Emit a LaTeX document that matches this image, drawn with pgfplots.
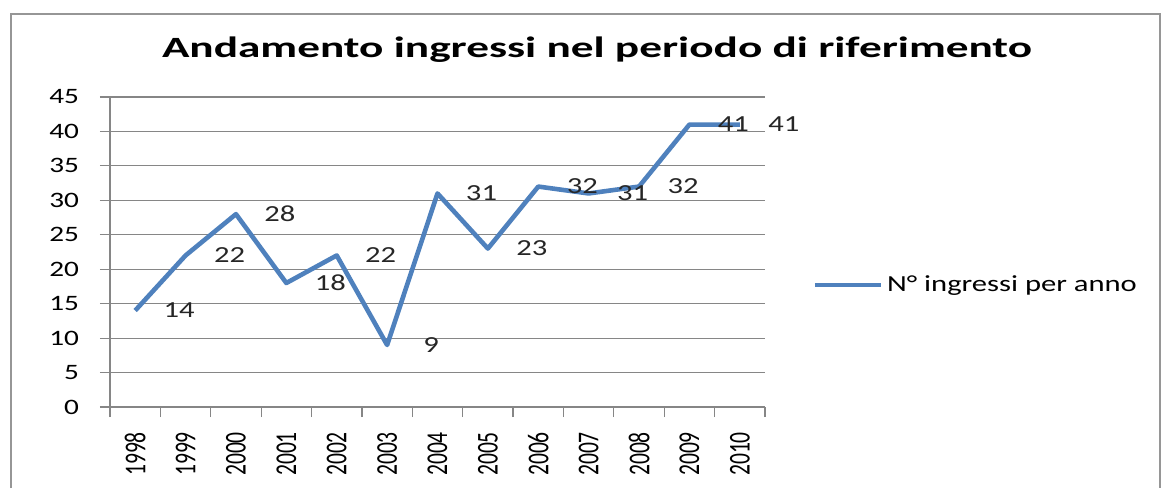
\documentclass[border=0pt]{standalone}
\usepackage{fontspec}
\setmainfont{Carlito}[FakeStretch=1.33]
\newfontfamily\titlefont{Carlito}[FakeStretch=1.54]
\newfontfamily\plainfont{Carlito}
\usepackage{pgfplots}
\pgfplotsset{compat=1.18}
\definecolor{lineblue}{RGB}{79,129,189}
\definecolor{gridgray}{RGB}{134,134,134}
\definecolor{framegray}{RGB}{150,150,150}
\begin{document}
\begin{tikzpicture}
\path[use as bounding box] (0,0) rectangle (584pt,244pt);
\draw[framegray, line width=1.2pt] (5.5pt,0pt) -- (5.5pt,237pt) -- (580pt,237pt) -- (580pt,0pt);
\node[font=\titlefont\fontsize{14.7}{17}\selectfont\bfseries] at (298.5pt,219pt) {Andamento ingressi nel periodo di riferimento};
\begin{axis}[at={(55pt,40.5pt)}, anchor=south west, scale only axis,
  width=327.5pt, height=155pt,
  xmin=-0.5, xmax=12.5, ymin=0, ymax=45,
  ytick={0,5,...,45},
  xtick={0,...,12},
  xticklabels={1998,1999,2000,2001,2002,2003,2004,2005,2006,2007,2008,2009,2010},
  minor xtick={-0.5,0.5,...,12.5},
  major x tick style={draw=none},
  tick align=outside, major tick length=5pt, minor tick length=5pt,
  tick style={gridgray, line width=0.6pt},
  axis x line*=bottom, axis y line*=left,
  axis line style={gridgray, line width=0.6pt, -},
  ymajorgrids, grid style={gridgray, line width=0.6pt},
  tick label style={font=\fontsize{11}{13}\selectfont, text=black},
  /pgf/number format/assume math mode=true,
  y tick label style={xshift=-7pt},
  x tick label style={yshift=-4pt, rotate=90, yscale=1.4, anchor=east,
    font=\plainfont\fontsize{10.8}{13}\selectfont},
  legend style={at={(1.072,0.394)}, anchor=west, draw=none, fill=none,
    inner sep=0pt, font=\fontsize{11.5}{13}\selectfont},
  legend image code/.code={\draw[#1] (0pt,0pt) -- (33pt,0pt);},
]
\addplot[lineblue, line width=2.3pt, line join=round,
  nodes near coords,
  every node near coord/.append style={anchor=center, xshift=22pt, yshift=0pt,
    font=\fontsize{11.5}{13}\selectfont, text=black!85}]
  coordinates {(0,14) (1,22) (2,28) (3,18) (4,22) (5,9) (6,31) (7,23) (8,32) (9,31) (10,32) (11,41) (12,41)};
\addlegendentry{N° ingressi per anno}
\end{axis}
\end{tikzpicture}
\end{document}
